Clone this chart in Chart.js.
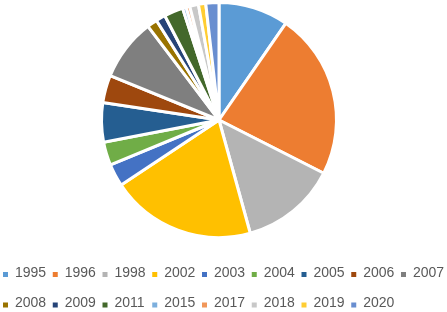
<!DOCTYPE html>
<html lang="en">
<head>
  <meta charset="UTF-8">
  <title>Pie by year</title>
  <script src="https://cdn.jsdelivr.net/npm/chart.js"></script>
  <style>
    html, body { margin: 0; padding: 0; background: #fff; }
    canvas { display: block; }
  </style>
</head>
<body>

<canvas id="pieChart" width="447" height="312"></canvas>

<script>
  // years shown in the legend, one slice each (clockwise from 12 o'clock)
  const years = ['1995', '1996', '1998', '2002', '2003', '2004', '2005', '2006', '2007',
                 '2008', '2009', '2011', '2015', '2017', '2018', '2019', '2020'];
  // share of each year (%)
  const shares = [9.6, 22.8, 13.2, 19.9, 3.1, 3.2, 5.4, 3.75, 8.5,
                  1.4, 1.3, 2.6, 0.5, 0.5, 1.2, 1.0, 1.8];
  const sliceColors = ['#5B9BD5', '#ED7D31', '#B4B4B4', '#FFC000', '#4472C4', '#70AD47', '#255E91', '#9E480E', '#7F7F7F',
                       '#997300', '#264478', '#43682B', '#7CAFDD', '#F1975A', '#C8C8C8', '#FFCD33', '#698ED0'];

  // Excel-like legend: fixed columns, left aligned, two rows
  const bottomLegend = {
    id: 'bottomLegend',
    afterDraw(chart) {
      const ctx = chart.ctx;
      const labels = chart.data.labels;
      const colors = chart.data.datasets[0].backgroundColor;
      ctx.save();
      ctx.font = '14px "Liberation Sans", Arial, sans-serif';
      ctx.textBaseline = 'middle';
      ctx.textAlign = 'left';
      labels.forEach((lab, i) => {
        const row = Math.floor(i / 9);
        const col = i % 9;
        const x = 3 + col * 49.75;
        const y = 273 + row * 30.5;
        ctx.fillStyle = colors[i];
        ctx.fillRect(x, y - 1, 5, 5);
        ctx.fillStyle = '#595959';
        ctx.fillText(lab, x + 12, y);
      });
      ctx.restore();
    }
  };

  new Chart(document.getElementById('pieChart'), {
    type: 'pie',
    data: {
      labels: years,
      datasets: [{
        data: shares,
        backgroundColor: sliceColors,
        borderColor: '#ffffff',
        borderWidth: 3
      }]
    },
    options: {
      responsive: false,
      animation: false,
      layout: { padding: { top: 1, bottom: 73, left: 0, right: 9 } },
      plugins: {
        legend: { display: false },
        tooltip: { enabled: false }
      }
    },
    plugins: [bottomLegend]
  });
</script>
</body>
</html>
